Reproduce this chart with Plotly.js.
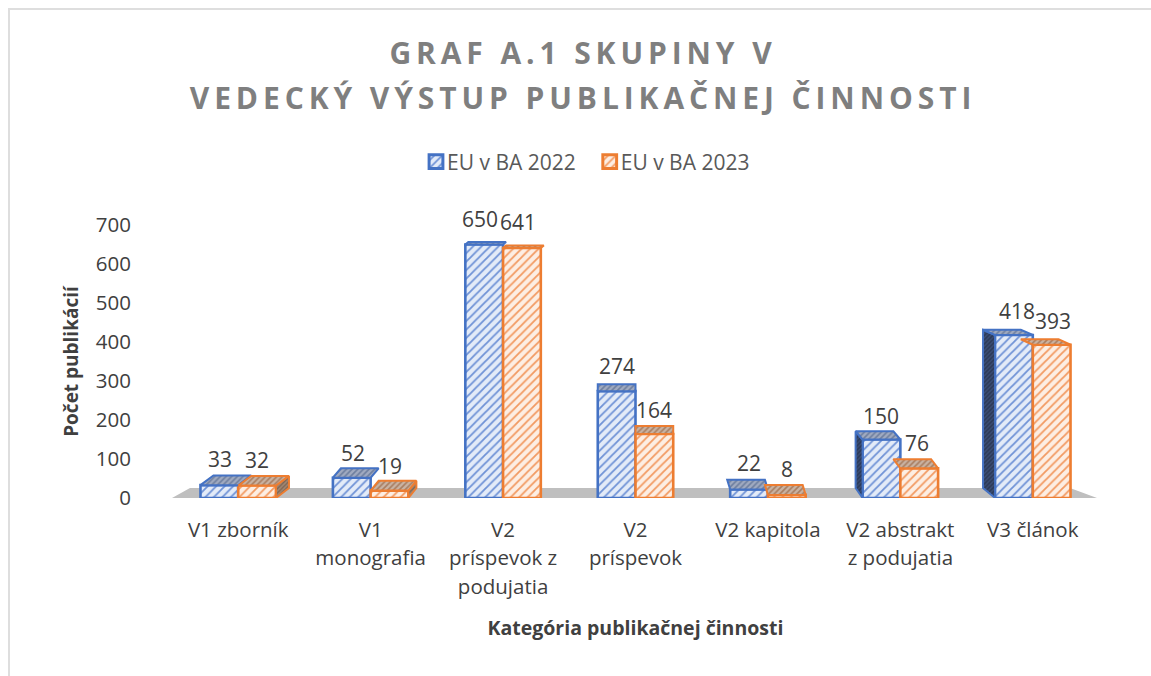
<!DOCTYPE html>
<html><head><meta charset="utf-8">
<script src="https://cdn.plot.ly/plotly-3.0.1.min.js"></script>
<style>
html,body{margin:0;padding:0;background:#fff;overflow:hidden}
#chart{width:1151px;height:676px;position:absolute;left:0;top:0}
#frame{position:absolute;left:8px;top:8px;width:1143px;height:668px;border-left:2px solid #dedede;border-top:2px solid #dedede;box-sizing:border-box;pointer-events:none}
.gtitle{letter-spacing:4.9px}
</style></head><body>
<div id="chart"></div><div id="frame"></div>
<script>
const categories = ["V1 zborník","V1<br>monografia","V2<br>príspevok z<br>podujatia","V2<br>príspevok","V2 kapitola","V2 abstrakt<br>z podujatia","V3 článok"];
const positions = [0,1,2,3,4,5,6];
const series2022 = [33,52,650,274,22,150,418];
const series2023 = [32,19,641,164,8,76,393];
const labelLift2022 = [10,9,10,9,10,8,8];
const labelLift2023 = [10,9,10,8,10,9,8];
const labelShift2022 = [1,1,-4,0,0,0,3];
const labelShift2023 = [0,0,-4,0,0,-2,1];
const depthPx = [13,8,3,0,-3,-7,-12];
const name2022 = "EU v BA 2022", name2023 = "EU v BA 2023";
const W = 1151, H = 676, L = 172, R = 1099, T = 225, B = 498;
const pxX = (R-L)/7, pxY = (B-T)/700, barW = 0.285;
const blue="#4472c4", orange="#ed7d31", grey="#404040";

function depthDy(v){ return Math.max(2.5, 10 - 0.0115*v); }
function faces(vals, off){
  const top={x:[],y:[]}, side={x:[],y:[]};
  vals.forEach((v,i)=>{
    const xl=positions[i]+off-barW/2, xr=xl+barW, dx=depthPx[i]/pxX, dy=depthDy(v)/pxY, dy0=10/pxY;
    top.x.push(xl,xl+dx,xr+dx,xr,xl,null); top.y.push(v,v+dy,v+dy,v,v,null);
    const sx = dx>0 ? xr : xl;
    if(Math.abs(depthPx[i])>=5 && ((dx>0&&off>0)||(dx<0&&off<0))){
      side.x.push(sx,sx+dx,sx+dx,sx,sx,null); side.y.push(0,dy0,v+dy,v,0,null);
    }
  });
  return {top,side};
}
const f22=faces(series2022,-barW/2), f23=faces(series2023,barW/2);
function poly(p,line,fg,bg,sz){return {x:p.x,y:p.y,mode:"lines",fill:"toself",type:"scatter",showlegend:false,hoverinfo:"skip",
  line:{color:line,width:2},fillcolor:bg,fillpattern:{shape:"/",fgcolor:fg,bgcolor:bg,size:sz,solidity:0.4}};}
function bar(name,vals,col,fg,bg){return {type:"bar",name:name,x:positions,y:vals,
  marker:{color:bg,line:{color:col,width:2.6},pattern:{shape:"/",fgcolor:fg,bgcolor:bg,size:6,solidity:0.3,fillmode:"replace"}}};}
const traces=[
  poly(f22.side,blue,"#3d5078","#2c3a58",3),
  bar(name2022,series2022,blue,"#6f92d6","#e3ebf8"),
  bar(name2023,series2023,orange,"#f29a62","#fdeee3"),
  poly(f23.side,orange,"#7d6350","#a08672",3),
  poly(f22.top,blue,"#6e7f9f","#a0aac0",4),
  poly(f23.top,orange,"#a87d60","#c9b3a3",4)
];
const labels=[];
series2022.forEach((v,i)=>labels.push({x:positions[i]-barW/2,y:v,text:String(v),showarrow:false,yanchor:"bottom",yshift:labelLift2022[i],xshift:labelShift2022[i],font:{size:21}}));
series2023.forEach((v,i)=>labels.push({x:positions[i]+barW/2,y:v,text:String(v),showarrow:false,yanchor:"bottom",yshift:labelLift2023[i],xshift:labelShift2023[i],font:{size:21}}));
const floor=`M -0.5 0 L ${6.5-2/pxX} 0 L ${6.5-29/pxX} ${10/pxY} L ${-0.5+18/pxX} ${10/pxY} Z`;
const layout={
  width:W,height:H,paper_bgcolor:"#fff",plot_bgcolor:"#fff",
  margin:{l:L,r:W-R,t:T,b:H-B,pad:0},
  font:{family:"'Open Sans',sans-serif",color:grey,size:18},
  title:{text:"GRAF A.1 SKUPINY V<br>VEDECKÝ VÝSTUP PUBLIKAČNEJ ČINNOSTI",x:583/W,xanchor:"center",y:1-64/H,yanchor:"middle",
    font:{family:"'Open Sans',sans-serif",size:30,color:"#7f7f7f",weight:700}},
  barmode:"group",bargap:1-2*barW,bargroupgap:0,
  xaxis:{range:[-0.5,6.5],tickmode:"array",tickvals:positions,ticktext:categories,showgrid:false,zeroline:false,showline:false,ticks:"",
    tickfont:{size:20.5,color:grey},automargin:false,ticklabelstandoff:17,
    title:{text:"Kategória publikačnej činnosti",font:{size:19.5,color:grey,weight:700},standoff:26}},
  yaxis:{range:[0,700],tickmode:"array",tickvals:[0,100,200,300,400,500,600,700],showgrid:false,zeroline:false,showline:false,ticks:"",
    tickfont:{size:20.5,color:grey},automargin:false,ticklabelstandoff:40,
    title:{text:"Počet publikácií",font:{size:19,color:grey,weight:700},standoff:12}},
  legend:{orientation:"h",x:590/W,xref:"container",xanchor:"center",y:1-162/H,yref:"container",yanchor:"middle",font:{size:21,color:"#595959"},traceorder:"normal"},
  shapes:[{type:"path",path:floor,xref:"x",yref:"y",fillcolor:"#bfbfbf",line:{width:0},layer:"below"}],
  annotations:labels
};
Plotly.newPlot("chart",traces,layout,{displayModeBar:false,staticPlot:true}).then(gd=>{
  gd.querySelectorAll(".xtick text").forEach(t=>{
    t.querySelectorAll("tspan.line").forEach((s,i)=>{s.setAttribute("y",parseFloat(s.getAttribute("y"))+i*2);});
  });
  gd.querySelectorAll(".gtitle tspan.line").forEach((s,i)=>{s.setAttribute("y",parseFloat(s.getAttribute("y"))+i*6);});
  gd.querySelectorAll(".legendtext").forEach(t=>{t.setAttribute("x",parseFloat(t.getAttribute("x"))-9);});
  gd.querySelectorAll(".legendpoints path").forEach(p=>{p.setAttribute("transform",(p.getAttribute("transform")||"")+" scale(1.15)");});
});
</script></body></html>
